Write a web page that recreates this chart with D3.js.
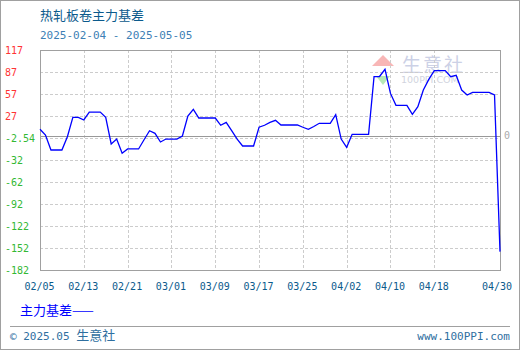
<!DOCTYPE html>
<html>
<head>
<meta charset="utf-8">
<script src="https://cdn.jsdelivr.net/npm/d3@7/dist/d3.min.js"></script>
<style>
  body { margin: 0; background: #fff; }
  svg { display: block; }
</style>
</head>
<body>
<svg id="chart" width="520" height="350"></svg>
<script>
var chartTitle = "热轧板卷主力基差";
var dateRange = "2025-02-04 - 2025-05-05";
var seriesName = "主力基差";
var startDate = "2025-02-05";

// daily values (calendar days) from 02/05 to 04/30
var basisValues = [
  9.2, 1.5, -18.9, -18.9, -18.9, -0.8, 25.5, 25.5, 21.9, 32.7,
  32.7, 32.7, 25.5, -10.7, -4, -23.4, -17.5, -17.5, -17.5, -5,
  7.3, 3.8, -8, -4, -4, -4, 0.1, 27.3, 36.4, 24.6,
  24.6, 24.6, 24.6, 14.7, 18.7, 7.3, -4.2, -13.5, -13.5, -13.5,
  12, 14.7, 18.7, 21.5, 15.1, 15.1, 15.1, 15.1, 12, 9.2,
  13, 17.4, 17.4, 17.4, 29.1, -4, -15.2, 2.4, 2.4, 2.4,
  2.4, 80.8, 81, 90.8, 58, 41.8, 41.8, 41.8, 29.6, 40,
  62.6, 77, 88.9, 88.9, 88.9, 80.7, 82.6, 62.6, 55.8, 59.5,
  59.5, 59.5, 59.5, 55.8, -157
];

var yTickValues = [117, 87, 57, 27, -2.54, -32, -62, -92, -122, -152, -182];
var yTickLabels = ["117", "87", "57", "27", "-2.54", "-32", "-62", "-92", "-122", "-152", "-182"];
var xTickLabels = ["02/05", "02/13", "02/21", "03/01", "03/09", "03/17", "03/25", "04/02", "04/10", "04/18", "04/30"];

var mono = "'DejaVu Sans Mono', monospace";
var cjk = "'Noto Sans CJK SC', sans-serif";

var svg = d3.select("svg#chart");
// note: "top" is taken by window.top, so plot* names
var plotL = 40, plotR = 500, plotT = 50, plotB = 270;

var parse = d3.utcParse("%Y-%m-%d");
var start = parse(startDate);
var data = basisValues.map((v, i) => ({date: d3.utcDay.offset(start, i), value: v}));
var xTickDates = xTickLabels.map(l => parse("2025-" + l.replace("/", "-")));

var x = d3.scaleUtc()
  .domain([start, data[data.length - 1].date])
  .range([plotL, plotR]);
var y = d3.scaleLinear()
  .domain([-182, 117])
  .range([plotB, plotT]);

// outer frame
svg.append("rect")
  .attr("x", 0.5).attr("y", 0.5)
  .attr("width", 519).attr("height", 349)
  .attr("fill", "none").attr("stroke", "#a0a0a0");

// title + date range
svg.append("text")
  .attr("x", 40).attr("y", 20)
  .attr("fill", "#0b5a8c")
  .style("font-family", cjk).style("font-size", "13px")
  .text(chartTitle);
svg.append("text")
  .attr("x", 40).attr("y", 39)
  .attr("fill", "#3d7fb5")
  .style("font-family", mono).style("font-size", "11px")
  .text(dateRange);

// watermark
var wm = svg.append("g").attr("opacity", 0.45);
wm.append("path").attr("d", "M383,55 L372,66 L394,66 Z").attr("fill", "#f06060");
wm.append("path").attr("d", "M376,76 L390,76 L383,85 Z").attr("fill", "#60d060");
wm.append("text").attr("x", 402).attr("y", 72)
  .attr("fill", "#8f9ac8").style("font-family", cjk).style("font-size", "19px")
  .style("letter-spacing", "2px").text("生意社");
wm.append("text").attr("x", 401).attr("y", 83)
  .attr("fill", "#9aa0b8").style("font-family", "'DejaVu Sans', sans-serif").style("font-size", "9.5px")
  .text("100PPI.COM");

// horizontal grid
svg.append("g")
  .selectAll("line")
  .data(yTickValues.slice(1, -1))
  .enter()
  .append("line")
  .attr("x1", plotL).attr("x2", plotR)
  .attr("y1", d => Math.round(y(d)) + 0.5)
  .attr("y2", d => Math.round(y(d)) + 0.5)
  .attr("stroke", "#cccccc")
  .attr("stroke-dasharray", "3,2");

// vertical grid
svg.append("g")
  .selectAll("line")
  .data(xTickDates.slice(1, -1))
  .enter()
  .append("line")
  .attr("y1", plotT).attr("y2", plotB)
  .attr("x1", d => Math.round(x(d)) + 0.5)
  .attr("x2", d => Math.round(x(d)) + 0.5)
  .attr("stroke", "#cccccc")
  .attr("stroke-dasharray", "3,2");

// zero line
svg.append("line")
  .attr("x1", plotL).attr("x2", plotR)
  .attr("y1", Math.round(y(0)) + 0.5).attr("y2", Math.round(y(0)) + 0.5)
  .attr("stroke", "#999999");
svg.append("text")
  .attr("x", 504).attr("y", y(0) + 3)
  .attr("fill", "#aaaaaa")
  .style("font-family", mono).style("font-size", "10px")
  .text("0");

// plot frame
svg.append("rect")
  .attr("x", plotL + 0.5).attr("y", plotT + 0.5)
  .attr("width", plotR - plotL).attr("height", plotB - plotT)
  .attr("fill", "none").attr("stroke", "#a0a0a0");

// y labels
svg.append("g")
  .selectAll("text")
  .data(yTickValues)
  .enter()
  .append("text")
  .attr("x", 5)
  .attr("y", d => y(d) + 4)
  .attr("fill", d => d > 0 ? "#ff3333" : "#33b833")
  .style("font-family", mono).style("font-size", "10px")
  .text((d, i) => yTickLabels[i]);

// x labels
svg.append("g")
  .selectAll("text")
  .data(xTickDates)
  .enter()
  .append("text")
  .attr("x", d => Math.min(x(d) - 0.5, 497))
  .attr("y", 290)
  .attr("text-anchor", "middle")
  .attr("fill", "#0b5a8c")
  .style("font-family", mono).style("font-size", "10px")
  .text((d, i) => xTickLabels[i]);

// the series
var line = d3.line()
  .x(d => x(d.date))
  .y(d => y(d.value));
svg.append("path")
  .datum(data)
  .attr("d", line)
  .attr("fill", "none")
  .attr("stroke", "#0000ff")
  .attr("stroke-width", 1.3);

// legend
svg.append("text")
  .attr("x", 20).attr("y", 315)
  .attr("fill", "#0000ff")
  .style("font-family", cjk).style("font-size", "13px")
  .text(seriesName + "——");

// footer
svg.append("line")
  .attr("x1", 10).attr("x2", 510)
  .attr("y1", 326.5).attr("y2", 326.5)
  .attr("stroke", "#a0a0a0");
var foot = svg.append("text")
  .attr("x", 10).attr("y", 340)
  .attr("fill", "#2f6f9f");
foot.append("tspan").style("font-family", mono).style("font-size", "11px").text("© 2025.05 ");
foot.append("tspan").style("font-family", cjk).style("font-size", "13px").text("生意社");
svg.append("text")
  .attr("x", 510).attr("y", 340)
  .attr("text-anchor", "end")
  .attr("fill", "#2f6f9f")
  .style("font-family", mono).style("font-size", "11px")
  .text("www.100PPI.com");
</script>
</body>
</html>
